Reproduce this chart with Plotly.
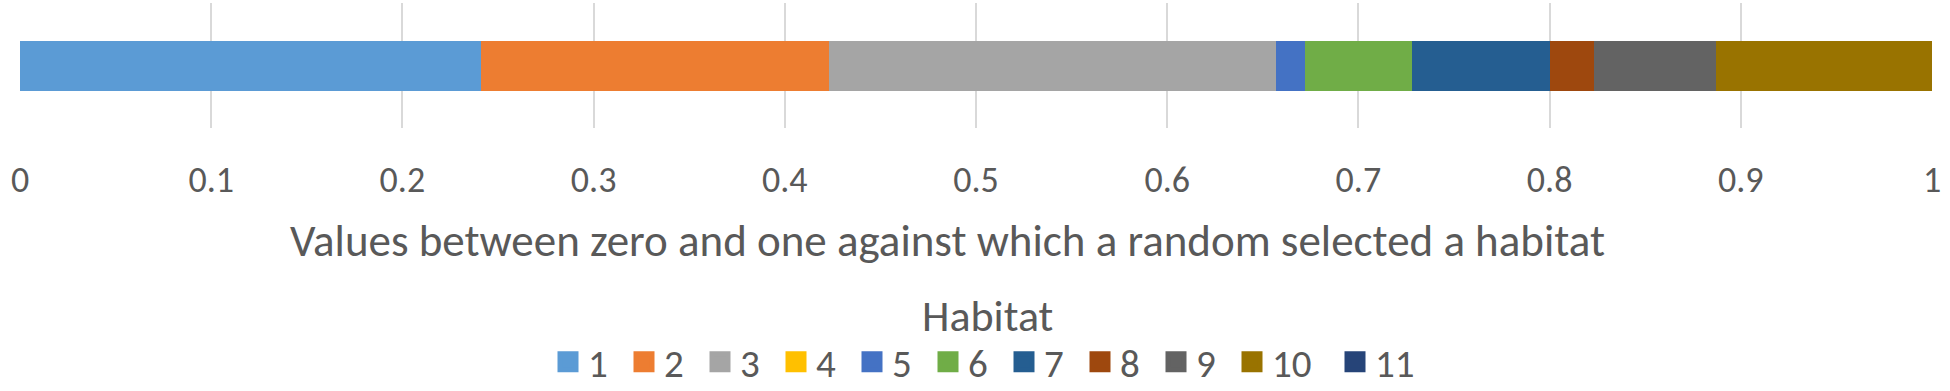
import plotly.graph_objects as go

habitats = ["1", "2", "3", "4", "5", "6", "7", "8", "9", "10", "11"]
shares = [0.241, 0.182, 0.234, 0.0, 0.015, 0.056, 0.072, 0.023, 0.064, 0.113, 0.0]
colors = ["#5B9BD5", "#ED7D31", "#A5A5A5", "#FFC000", "#4472C4", "#70AD47",
          "#255E91", "#9E480E", "#636363", "#997300", "#264478"]
tick_vals = [0, 0.1, 0.2, 0.3, 0.4, 0.5, 0.6, 0.7, 0.8, 0.9, 1]
tick_text = ["0", "0.1", "0.2", "0.3", "0.4", "0.5", "0.6", "0.7", "0.8", "0.9", "1"]
x_title = "Values between zero and one against which a random selected a habitat"
legend_title = "Habitat"

FONT = "Carlito, Calibri, Lato, sans-serif"
TXT = "#595959"

W, H = 1950, 391
ML, MR, MT, MB = 20, 18, 3, 263
PLOT_W = W - ML - MR
PLOT_H = H - MT - MB


def px_to_paper_x(px):
    return (px - ML) / PLOT_W


def px_to_paper_y(py):
    return (H - MB - py) / PLOT_H


fig = go.Figure()
# stacked bar segments
for name, val, col in zip(habitats, shares, colors):
    fig.add_trace(go.Bar(
        x=[val], y=[0], name=name, orientation="h",
        marker=dict(color=col, line=dict(width=0)),
        width=0.4, showlegend=False, legendgroup=name,
    ))
# legend entries (square swatches)
for name, col in zip(habitats, colors):
    fig.add_trace(go.Scatter(
        x=[None], y=[None], name=name, mode="markers", legendgroup=name,
        marker=dict(symbol="square", size=16, color=col, line=dict(color=col, width=5)),
        legendwidth=31 if len(name) == 1 else 58,
        showlegend=True,
    ))

fig.update_layout(
    width=W, height=H,
    barmode="stack",
    margin=dict(l=ML, r=MR, t=MT, b=MB, autoexpand=False),
    paper_bgcolor="white", plot_bgcolor="white",
    font=dict(family=FONT, color=TXT, size=36),
    showlegend=True,
    legend=dict(
        orientation="h",
        xref="container", x=548 / W, xanchor="left",
        yref="container", y=1 - 362 / H, yanchor="middle",
        font=dict(size=39, color=TXT),
        traceorder="normal",
        itemclick=False, itemdoubleclick=False,
        bgcolor="rgba(0,0,0,0)", borderwidth=0,
    ),
    xaxis=dict(
        range=[0, 1], tickvals=tick_vals, ticktext=tick_text,
        showgrid=True, gridcolor="#D9D9D9", gridwidth=1.5,
        zeroline=False, showline=False,
        ticks="outside", ticklen=20, tickcolor="rgba(0,0,0,0)",
        tickfont=dict(size=36, color=TXT),
    ),
    yaxis=dict(
        range=[-0.5, 0.5], showticklabels=False, showgrid=False,
        zeroline=False, showline=False, fixedrange=True,
    ),
    annotations=[
        dict(text=x_title, xref="paper", yref="paper",
             x=px_to_paper_x(288), y=px_to_paper_y(240),
             xanchor="left", yanchor="middle", showarrow=False,
             font=dict(size=45, color=TXT, family=FONT)),
        dict(text=legend_title, xref="paper", yref="paper",
             x=px_to_paper_x(987), y=px_to_paper_y(316),
             xanchor="center", yanchor="middle", showarrow=False,
             font=dict(size=44, color=TXT, family=FONT)),
    ],
)

fig.write_html("out.html", config={"displayModeBar": False},
               post_script="document.body.style.margin='0';")
